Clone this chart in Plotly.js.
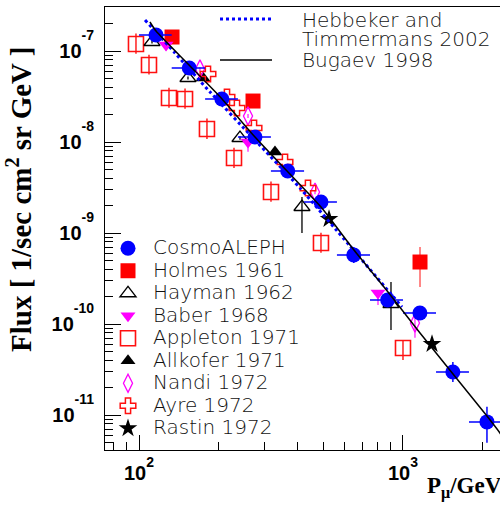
<!DOCTYPE html>
<html><head><meta charset="utf-8">
<script src="https://cdn.plot.ly/plotly-3.0.1.min.js"></script>
<style>html,body{margin:0;padding:0;overflow:hidden;background:#fff}#chart{width:505px;height:508px}</style>
</head><body><div id="chart"></div>
<script>
// ---- data (momentum in GeV, flux in 1/(s cm^2 sr GeV)) ----
const cosmoP   = [116, 155, 206, 275, 366, 489, 651, 875, 1159, 1545, 2080];
const cosmoPlo = [100, 133, 178, 237, 316, 422, 562, 750, 1000, 1334, 1778];
const cosmoPhi = [133, 178, 237, 316, 422, 562, 750, 1000, 1334, 1778, 2371];
const cosmoF   = [1.50e-7, 6.50e-8, 2.97e-8, 1.135e-8, 4.80e-9, 2.19e-9, 5.73e-10, 1.84e-10, 1.32e-10, 2.97e-11, 8.4e-12];
const cosmoFup = [4e-9, 1.5e-9, 7e-10, 3e-10, 1.5e-10, 8e-11, 1.3e-10, 1.5e-11, 1.2e-11, 8.5e-12, 3.9e-12];
const cosmoFdn = [4e-9, 1.5e-9, 7e-10, 3e-10, 1.5e-10, 8e-11, 1.05e-10, 1.5e-11, 1.2e-11, 6.6e-12, 3.45e-12];

const holmesP   = [133.4, 270.3, 1160];
const holmesF   = [1.425e-7, 2.82e-8, 4.80e-10];
const holmesFup = [8e-9, 1.5e-9, 2.2e-10];
const holmesFdn = [8e-9, 1.5e-9, 2.25e-10];

const haymanP   = [112, 153.3, 241.3, 414.3, 900.6];
const haymanF   = [1.256e-7, 5.05e-8, 1.106e-8, 1.931e-9, 1.659e-10];
const haymanFup = [5e-9, 2e-9, 5e-10, 5.6e-10, 1.24e-10];
const haymanFdn = [5e-9, 2e-9, 5e-10, 9.3e-10, 8.0e-11];

const baberP   = [126.6, 258.8, 804.1];
const baberF   = [1.164e-7, 1.0e-8, 2.19e-10];
const baberFup = [5e-9, 5e-10, 1.5e-11];
const baberFdn = [1.5e-8, 2.2e-9, 5.7e-11];

const appletonP   = [97.4, 109.1, 129.9, 149.4, 180.9, 229.0, 316.2, 489.0, 1000];
const appletonF   = [1.194e-7, 7.02e-8, 3.045e-8, 2.968e-8, 1.389e-8, 6.67e-9, 2.82e-9, 7.77e-10, 5.45e-11];
const appletonFup = [3.6e-8, 2.1e-8, 9e-9, 9e-9, 4.2e-9, 2e-9, 8.5e-10, 2.3e-10, 1.22e-11];
const appletonFdn = [2.6e-8, 1.5e-8, 6.7e-9, 6.5e-9, 3.1e-9, 1.5e-9, 6.2e-10, 1.7e-10, 1.43e-11];

const allkoferP = [174.8, 327.4];
const allkoferF = [5.05e-8, 7.77e-9];

const nandiP   = [170.2, 258.8, 464.2, 1110];
const nandiF   = [6.34e-8, 1.931e-8, 2.82e-9, 1.026e-10];
const nandiFup = [3e-9, 1e-9, 1.5e-10, 1.7e-11];
const nandiFdn = [3e-9, 1e-9, 1.5e-10, 3.2e-11];

const ayreP = [182.5, 215.4, 235.0, 272.7, 357.3, 436.6];
const ayreF = [5.59e-8, 3.12e-8, 2.363e-8, 1.425e-8, 6.03e-9, 3.12e-9];

const rastinP = [524.5, 1288];
const rastinF = [1.425e-9, 6.03e-11];

const hebP = [105.4, 136.9, 185.8, 275.0, 407.3, 630, 991];
const hebF = [2.19e-7, 9.51e-8, 3.544e-8, 1.051e-8, 3.12e-9, 7.19e-10, 1.54e-10];

const bugP = [110, 116.0, 154.7, 206.3, 275.0, 366.7, 489.0, 652.1, 877.5, 1160, 1547, 2080, 2330, 2460];
const bugF = [2.083e-7, 1.659e-7, 7.02e-8, 2.968e-8, 1.135e-8, 4.68e-9, 1.93e-9, 6.50e-10, 2.246e-10, 7.96e-11, 2.82e-11, 9.75e-12, 6.34e-12, 4.95e-12];

const xTickVals = [100, 1000];
const xTickText = ['2', '3'].map(e => '10<span style="font-size:14px;baseline-shift:13px">' + e + '</span>');
const yTickVals = [1e-11, 1e-10, 1e-9, 1e-8, 1e-7];
const yTickText = ['-11', '-10', '-9', '-8', '-7'].map(e => '10<span style="font-size:14px;baseline-shift:18px">' + e + '</span>');

const legendNames = ['CosmoALEPH', 'Holmes 1961', 'Hayman 1962', 'Baber 1968', 'Appleton 1971',
                     'Allkofer 1971', 'Nandi 1972', 'Ayre 1972', 'Rastin 1972'];

// ---- helpers ----
const nm = s => '<span style="font-size:20px">' + s + '</span>';
const yerr = (up, dn, color) => ({type: 'data', array: up, arrayminus: dn, color: color, thickness: 1.5, width: 0, visible: true});

const traces = [
  {x: appletonP, y: appletonF, name: nm(legendNames[4]), legendrank: 5, mode: 'markers', type: 'scatter',
   error_y: yerr(appletonFup, appletonFdn, '#ff2020'),
   marker: {symbol: 'square-open', size: 15, color: '#ff1010', line: {width: 1.6, color: '#ff1010'}}},
  {x: haymanP, y: haymanF, name: nm(legendNames[2]), legendrank: 3, mode: 'markers', type: 'scatter',
   error_y: yerr(haymanFup, haymanFdn, '#222'),
   marker: {symbol: 'triangle-up-open', size: 14, color: '#000', line: {width: 1.3, color: '#000'}}},
  {x: holmesP, y: holmesF, name: nm(legendNames[1]), legendrank: 2, mode: 'markers', type: 'scatter',
   error_y: yerr(holmesFup, holmesFdn, '#ff6060'),
   marker: {symbol: 'square', size: 15, color: '#ff0000', line: {width: 0}}},
  {x: baberP, y: baberF, name: nm(legendNames[3]), legendrank: 4, mode: 'markers', type: 'scatter',
   error_y: yerr(baberFup, baberFdn, '#ff40ff'),
   marker: {symbol: 'triangle-down', size: 13, color: '#ff00ff', line: {width: 0}}},
  {x: allkoferP, y: allkoferF, name: nm(legendNames[5]), legendrank: 6, mode: 'markers', type: 'scatter',
   marker: {symbol: 'triangle-up', size: 13, color: '#000', line: {width: 0}}},
  {x: nandiP, y: nandiF, name: nm(legendNames[6]), legendrank: 7, mode: 'markers', type: 'scatter',
   error_y: yerr(nandiFup, nandiFdn, '#ff40ff'),
   marker: {symbol: 'diamond-tall-open', size: 13, color: '#ff00ff', line: {width: 1.3, color: '#ff00ff'}}},
  {x: ayreP, y: ayreF, name: nm(legendNames[7]), legendrank: 8, mode: 'markers', type: 'scatter',
   marker: {symbol: 'cross-open', size: 13, color: '#ff1010', line: {width: 1.5, color: '#ff1010'}}},
  {x: rastinP, y: rastinF, name: nm(legendNames[8]), legendrank: 9, mode: 'markers', type: 'scatter',
   marker: {symbol: 'star', size: 14, color: '#000', line: {width: 0}}},
  {x: cosmoP, y: cosmoF, name: nm(legendNames[0]), legendrank: 1, mode: 'markers', type: 'scatter',
   error_x: {type: 'data', array: cosmoPhi.map((h, i) => h - cosmoP[i]), arrayminus: cosmoP.map((p, i) => p - cosmoPlo[i]),
             color: '#0000ff', thickness: 1.5, width: 0},
   error_y: yerr(cosmoFup, cosmoFdn, '#0000ff'),
   marker: {symbol: 'circle', size: 15, color: '#0000ff', line: {width: 0}}},
  {x: hebP, y: hebF, name: 'Hebbeker and Timmermans 2002', mode: 'lines', type: 'scatter', showlegend: false,
   line: {color: '#0000ff', width: 3, dash: 'dot', shape: 'spline', smoothing: 0.6}},
  {x: bugP, y: bugF, name: 'Bugaev 1998', mode: 'lines', type: 'scatter', showlegend: false,
   line: {color: '#000', width: 1.5, shape: 'spline', smoothing: 0.6}}
];

// paper coordinate helpers for the fixed 505x508 canvas with plot area [105..505]x[7..450]
const L = 105, R = 505, T = 7, B = 450;
const px = v => (v - L) / (R - L);
const py = v => (B - v) / (B - T);

const thinFamily = 'DejaVu Sans ExtraLight, DejaVu Sans Light, DejaVu Sans, sans-serif';
const tickFont = {family: 'Liberation Sans, Arial, sans-serif', size: 20, weight: 'bold', color: '#000'};
const legFont = {family: thinFamily, size: 20, weight: 200, color: '#111'};

const layout = {
  width: 505, height: 508,
  margin: {l: L, r: 0, t: T, b: 508 - B, pad: 0},
  paper_bgcolor: '#fff', plot_bgcolor: '#fff',
  showlegend: true,
  legend: {x: px(103), y: py(232), xanchor: 'left', yanchor: 'top', bgcolor: 'rgba(0,0,0,0)', borderwidth: 0,
           font: {family: thinFamily, size: 15.0, weight: 200, color: '#111'},
           itemwidth: 40, tracegroupgap: 0, itemsizing: 'trace', traceorder: 'normal'},
  xaxis: {type: 'log', range: [1.8712, 3.3864], tickmode: 'array', tickvals: xTickVals, ticktext: xTickText,
          ticks: 'inside', ticklen: 15, tickwidth: 1, tickcolor: '#000', ticklabelstandoff: 5,
          minor: {ticks: 'inside', ticklen: 8, tickwidth: 1, tickcolor: '#000', dtick: 'D1', showgrid: false},
          showgrid: false, zeroline: false, showline: true, linecolor: '#000', linewidth: 1, mirror: true,
          tickfont: tickFont, automargin: false},
  yaxis: {type: 'log', range: [-11.3846, -6.5165], tickmode: 'array', tickvals: yTickVals, ticktext: yTickText,
          ticks: 'inside', ticklen: 16, tickwidth: 1, tickcolor: '#000', ticklabelstandoff: 6,
          minor: {ticks: 'inside', ticklen: 8, tickwidth: 1, tickcolor: '#000', dtick: 'D1', showgrid: false},
          showgrid: false, zeroline: false, showline: true, linecolor: '#000', linewidth: 1, mirror: true,
          tickfont: tickFont, automargin: false},
  shapes: [
    {type: 'line', xref: 'paper', yref: 'paper', x0: px(220), x1: px(272), y0: py(19), y1: py(19),
     line: {color: '#0000ff', width: 3, dash: 'dot'}},
    {type: 'line', xref: 'paper', yref: 'paper', x0: px(220), x1: px(272), y0: py(60), y1: py(60),
     line: {color: '#000', width: 1.5}}
  ],
  annotations: [
    {text: 'Flux [ 1/sec cm<sup>2</sup> sr GeV ]', xref: 'paper', yref: 'paper', x: px(19), y: py(200),
     xanchor: 'center', yanchor: 'middle', textangle: -90, showarrow: false,
     font: {family: 'Liberation Serif, Times New Roman, serif', size: 29, weight: 'bold', color: '#000'}},
    {text: 'P<sub>μ</sub>/GeV', xref: 'paper', yref: 'paper', x: px(425), y: py(487),
     xanchor: 'left', yanchor: 'middle', showarrow: false,
     font: {family: 'Liberation Serif, Times New Roman, serif', size: 23, weight: 'bold', color: '#000'}},
    {text: 'Hebbeker and', xref: 'paper', yref: 'paper', x: px(300), y: py(20), xanchor: 'left', yanchor: 'middle',
     showarrow: false, font: legFont},
    {text: 'Timmermans 2002', xref: 'paper', yref: 'paper', x: px(300), y: py(38.5), xanchor: 'left', yanchor: 'middle',
     showarrow: false, font: legFont},
    {text: 'Bugaev 1998', xref: 'paper', yref: 'paper', x: px(300), y: py(60), xanchor: 'left', yanchor: 'middle',
     showarrow: false, font: legFont}
  ]
};

Plotly.newPlot('chart', traces, layout, {staticPlot: true, displayModeBar: false});
</script>
</body></html>
